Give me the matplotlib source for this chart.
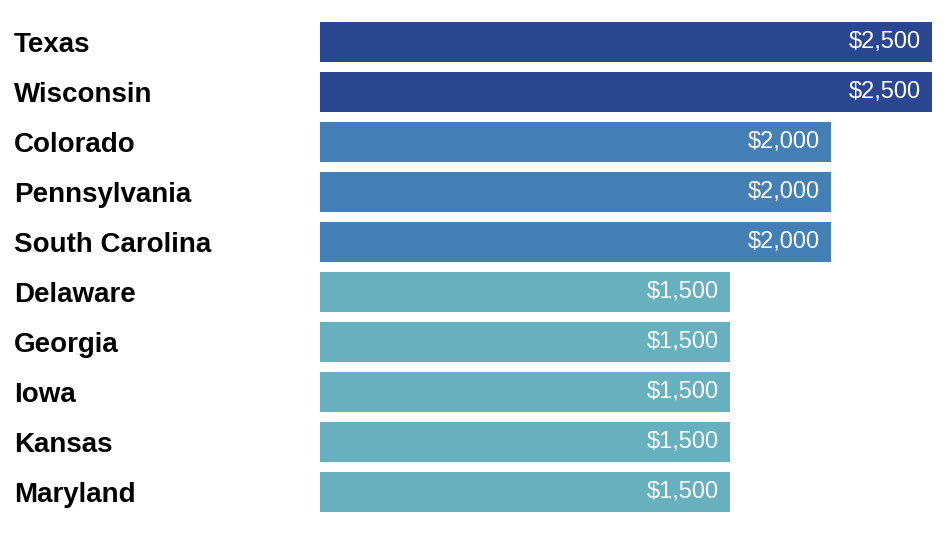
import numpy as np
import matplotlib.pyplot as plt
from matplotlib.transforms import blended_transform_factory, offset_copy

states = ["Texas", "Wisconsin", "Colorado", "Pennsylvania", "South Carolina",
          "Delaware", "Georgia", "Iowa", "Kansas", "Maryland"]
amounts = [2500, 2500, 2000, 2000, 2000, 1500, 1500, 1500, 1500, 1500]
amount_labels = ["$2,500", "$2,500", "$2,000", "$2,000", "$2,000",
                 "$1,500", "$1,500", "$1,500", "$1,500", "$1,500"]

COLORS = {2500: "#2b4791", 2000: "#447fb5", 1500: "#67b0bd"}
BASE = -530  # bars start at the left edge of the axes, not at zero

plt.rcParams["font.family"] = ["Liberation Sans", "DejaVu Sans"]

fig = plt.figure(figsize=(9.48, 5.44), dpi=100)
ax = fig.add_axes([320 / 948, 32 / 544, 612 / 948, 490 / 544])

y = np.arange(len(states))
ax.barh(y, [a - BASE for a in amounts], left=BASE, height=0.8,
        color=[COLORS[a] for a in amounts])

ax.set_xlim(BASE, 2500)
ax.set_ylim(len(states) - 0.6, -0.4)
ax.axis("off")

trans = blended_transform_factory(fig.transFigure, ax.transData)
trans = offset_copy(trans, fig=fig, x=0, y=-3, units="dots")
for yi, name in zip(y, states):
    ax.text(14 / 948, yi, name, transform=trans, ha="left", va="center",
            fontsize=20, fontweight="bold", color="black")

for yi, a, lbl in zip(y, amounts, amount_labels):
    ax.annotate(lbl, (a, yi), xytext=(-11, 0), textcoords="offset pixels",
                ha="right", va="center", fontsize=17, color="white")

fig.savefig("out.png", dpi=100)
plt.close()
